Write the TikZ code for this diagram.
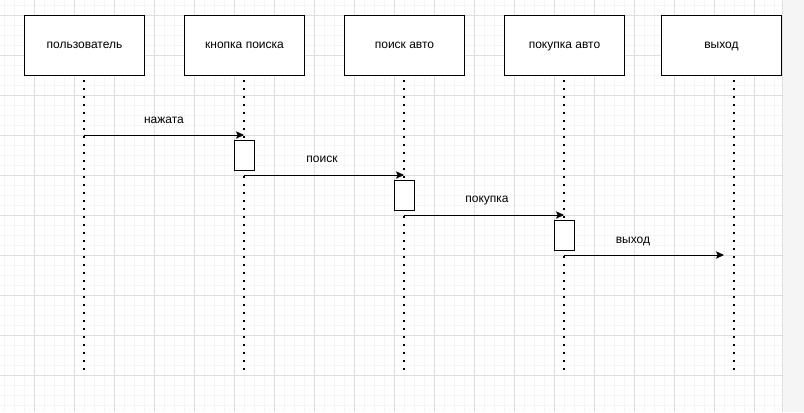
\documentclass[tikz,border=0pt]{standalone}
\usepackage{fontspec}
\setmainfont{Liberation Sans}
\usetikzlibrary{arrows.meta}
\usetikzlibrary{calc}

\tikzset{
  gridminor/.style={black!4, line width=0.5pt},
  gridmajor/.style={black!13, line width=0.75pt},
  actor/.style={draw, line width=0.75pt, fill=white, minimum width=90pt, minimum height=45pt, inner sep=0pt, text height=6.6pt, text depth=1.9pt, font=\fontsize{9}{11}\selectfont},
  activation/.style={draw, line width=0.75pt, fill=white, minimum width=15pt, minimum height=22.5pt, inner sep=0pt},
  lifeline/.style={line width=1.5pt, dash pattern=on 1.5pt off 4.5pt},
  message/.style={line width=0.75pt, -{Stealth[length=6pt, width=5.5pt, inset=1.2pt]}},
  msglabel/.style={inner sep=0pt, text height=6.6pt, text depth=1.9pt, font=\fontsize{9}{11}\selectfont}
}

\begin{document}
\begin{tikzpicture}[x=0.75pt, y=-0.75pt]
        \useasboundingbox (0,0) rectangle (804,412);
        % background grid
        \fill[white] (0,0) rectangle (782,412);
        \fill[black!4] (782,0) rectangle (804,412);
        \foreach \x in {4,14,...,774} \draw[gridminor] (\x,0) -- (\x,412);
        \foreach \y in {5,15,...,405} \draw[gridminor] (0,\y) -- (782,\y);
        \foreach \x in {34,74,...,754} \draw[gridmajor] (\x,0) -- (\x,412);
        \foreach \y in {15,55,...,375} \draw[gridmajor] (0,\y) -- (782,\y);
        \draw[black!12] (782,0) -- (782,412);

        % participants
        \node[actor] (user) at (84.5,45) {пользователь};
        \node[actor] (button) at (244.5,45) {кнопка поиска};
        \node[actor] (search) at (404.5,45) {поиск авто};
        \node[actor] (buy) at (564.5,45) {покупка авто};
        \node[actor] (exit) at (721.5,45) {выход};

        % lifelines
        \coordinate (userTop) at (84,80);
        \coordinate (userEnd) at (84,375);
        \coordinate (buttonTop) at (244,80);
        \coordinate (buttonEnd) at (244,375);
        \coordinate (searchTop) at (404,80);
        \coordinate (searchEnd) at (404,375);
        \coordinate (buyTop) at (564,80);
        \coordinate (buyEnd) at (564,375);
        \coordinate (exitTop) at (734,80);
        \coordinate (exitEnd) at (734,375);
        \draw[lifeline] (userTop) -- (userEnd);
        \draw[lifeline] (buttonTop) -- (buttonEnd);
        \draw[lifeline] (searchTop) -- (searchEnd);
        \draw[lifeline] (buyTop) -- (buyEnd);
        \draw[lifeline] (exitTop) -- (exitEnd);

        % activations
        \node[activation] (buttonAct) at (244.5,155) {};
        \node[activation] (searchAct) at (404.5,195) {};
        \node[activation] (buyAct) at (564.5,235) {};

        % messages
        \coordinate (pressFrom) at (84,135);
        \coordinate (pressTo) at (244,135);
        \coordinate (searchFrom) at (244,175);
        \coordinate (searchTo) at (404,175);
        \coordinate (buyFrom) at (404,215);
        \coordinate (buyTo) at (564,215);
        \coordinate (exitFrom) at (564,255);
        \coordinate (exitTo) at (724,255);
        \draw[message] (pressFrom) -- (pressTo);
        \draw[message] (searchFrom) -- (searchTo);
        \draw[message] (buyFrom) -- (buyTo);
        \draw[message] (exitFrom) -- (exitTo);
        \node[msglabel] (pressLabel) at (164,120) {нажата};
        \node[msglabel] (searchLabel) at (322,159) {поиск};
        \node[msglabel] (buyLabel) at (487,199) {покупка};
        \node[msglabel] (exitLabel) at (633,240) {выход};
\end{tikzpicture}
\end{document}
